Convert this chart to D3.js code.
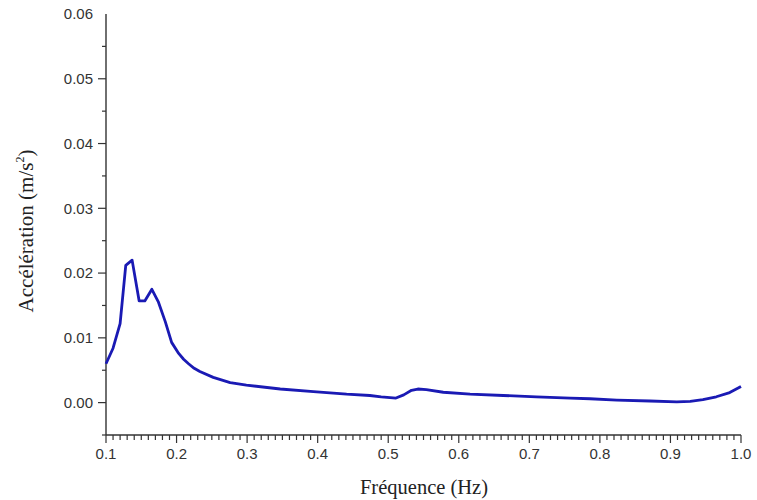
<!DOCTYPE html>
<html>
<head>
<meta charset="utf-8">
<script src="https://cdn.jsdelivr.net/npm/d3@7"></script>
<style>
  html, body { margin: 0; padding: 0; background: #fff; }
  svg { display: block; }
</style>
</head>
<body>
<svg id="chart" width="757" height="500"></svg>
<script>
// Acceleration spectrum, frequency (Hz) vs acceleration (m/s²)
const freq = [0.100, 0.110, 0.120, 0.128, 0.137, 0.147, 0.155, 0.165, 0.174, 0.184,
  0.193, 0.203, 0.210, 0.217, 0.225, 0.233, 0.252, 0.276, 0.299, 0.347, 0.394, 0.441,
  0.474, 0.490, 0.511, 0.522, 0.533, 0.542, 0.554, 0.578, 0.616, 0.663,
  0.710, 0.758, 0.786, 0.824, 0.871, 0.909, 0.928, 0.946, 0.965, 0.984, 1.000];
const accel = [0.0060, 0.0084, 0.0122, 0.0212, 0.0220, 0.0157, 0.0157, 0.0175, 0.0156, 0.0125,
  0.0093, 0.0076, 0.0067, 0.0060, 0.0053, 0.0048, 0.0039, 0.0031, 0.0027, 0.0021, 0.0017, 0.0013,
  0.0011, 0.0009, 0.0007, 0.0012, 0.0019, 0.0021, 0.0020, 0.0016, 0.0013, 0.0011,
  0.0009, 0.0007, 0.0006, 0.0004, 0.00025, 0.0001, 0.0002, 0.00046, 0.0009, 0.00155, 0.0025];
const xTicks = [0.1, 0.2, 0.3, 0.4, 0.5, 0.6, 0.7, 0.8, 0.9, 1.0];
const yTicks = [0.00, 0.01, 0.02, 0.03, 0.04, 0.05, 0.06];

const svg = d3.select("#chart");
const axisColor = "#333";

const x = d3.scaleLinear().domain([0.1, 1.0]).range([106, 741]);
const y = d3.scaleLinear().domain([-0.005, 0.06]).range([435, 14]);

// bottom axis: minor ticks every 0.01, majors every 0.1
const xAxisG = svg.append("g").attr("transform", "translate(0,435)");
xAxisG.append("line").attr("x1", x(0.1)).attr("x2", x(1.0))
  .attr("stroke", axisColor).attr("stroke-width", 1.4);
const xMinor = d3.range(0, 91).map(i => 0.1 + i * 0.01);
xAxisG.selectAll("line.minor").data(xMinor).join("line")
  .attr("class", "minor")
  .attr("x1", d => x(d)).attr("x2", d => x(d))
  .attr("y1", 0).attr("y2", (d, i) => i % 10 === 0 ? 8 : 5)
  .attr("stroke", axisColor).attr("stroke-width", 1.2);
xAxisG.selectAll("text").data(xTicks).join("text")
  .attr("x", d => x(d)).attr("y", 24)
  .attr("text-anchor", "middle")
  .attr("font-family", "Liberation Sans, Arial, sans-serif")
  .attr("font-size", 15).attr("fill", "#333")
  .text(d => d3.format(".1f")(d));

// left axis: majors every 0.01, minors at half steps
const yAxisG = svg.append("g").attr("transform", "translate(106,0)");
yAxisG.append("line").attr("y1", y(-0.005)).attr("y2", y(0.06))
  .attr("stroke", axisColor).attr("stroke-width", 1.4);
const yMinor = d3.range(0, 13).map(i => -0.005 + i * 0.005);
yAxisG.selectAll("line.tick").data(yMinor).join("line")
  .attr("class", "tick")
  .attr("y1", d => y(d)).attr("y2", d => y(d))
  .attr("x1", 0).attr("x2", (d, i) => i % 2 === 1 ? -8 : -4)
  .attr("stroke", axisColor).attr("stroke-width", 1.2);
yAxisG.selectAll("text").data(yTicks).join("text")
  .attr("x", -13).attr("y", d => y(d))
  .attr("dy", "0.35em")
  .attr("text-anchor", "end")
  .attr("font-family", "Liberation Sans, Arial, sans-serif")
  .attr("font-size", 15).attr("fill", "#333")
  .text(d => d3.format(".2f")(d));

// axis titles
svg.append("text")
  .attr("x", 424).attr("y", 494)
  .attr("text-anchor", "middle")
  .attr("font-family", "Liberation Serif, Times New Roman, serif")
  .attr("font-size", 20.5).attr("fill", "#222")
  .text("Fréquence (Hz)");

const yTitle = svg.append("text")
  .attr("transform", "translate(33,231) rotate(-90)")
  .attr("text-anchor", "middle")
  .attr("font-family", "Liberation Serif, Times New Roman, serif")
  .attr("font-size", 21).attr("fill", "#222");
yTitle.append("tspan").text("Accélération (m/s");
yTitle.append("tspan").attr("font-size", 12).attr("dy", -9).text("2");
yTitle.append("tspan").attr("dy", 9).text(")");

// spectrum curve
const pts = freq.map((f, i) => [f, accel[i]]);
const line = d3.line()
  .x(d => x(d[0]))
  .y(d => y(d[1]))
  .curve(d3.curveLinear);
svg.append("path")
  .datum(pts)
  .attr("d", line)
  .attr("fill", "none")
  .attr("stroke", "#1a1ab4")
  .attr("stroke-width", 2.8)
  .attr("stroke-linejoin", "round");
</script>
</body>
</html>
